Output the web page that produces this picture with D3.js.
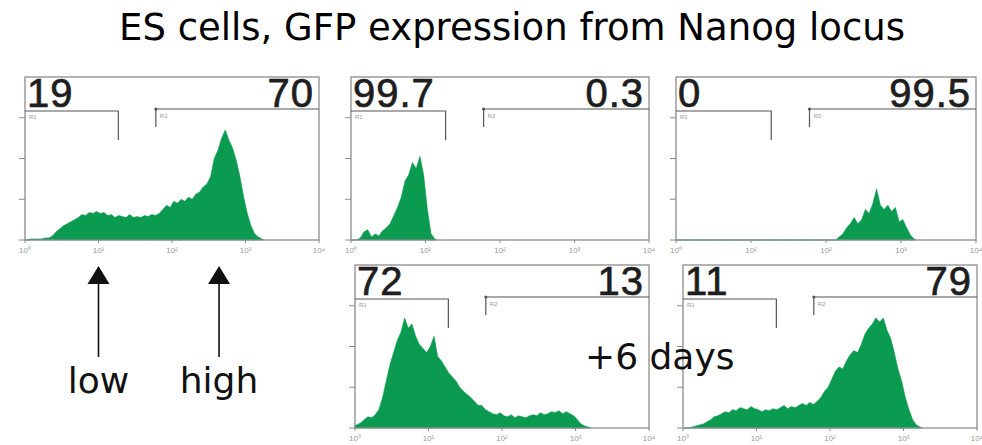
<!DOCTYPE html>
<html>
<head>
<meta charset="utf-8">
<script src="https://cdn.jsdelivr.net/npm/d3@7"></script>
<style>
  html, body { margin: 0; padding: 0; background: #fff; }
  svg { display: block; }
</style>
</head>
<body>
<svg id="chart" width="982" height="445"></svg>
<script>
// ---- data ----
const titleText = "ES cells, GFP expression from Nanog locus";
const binWidth = 0.05;                 // decades per histogram bin, first bin starts at 10^0
const decadeTicks = [0, 1, 2, 3, 4];
const decadeLabels = ["10⁰", "10¹", "10²", "10³", "10⁴"];
const countTicks = [0, 40, 80, 120];
const gateR1End = 1.27;                // log10 upper edge of gate R1
const gateR2Start = 1.78;              // log10 lower edge of gate R2

const percentR1 = [19, 99.7, 0, 72, 11];
const percentR2 = [70, 0.3, 99.5, 13, 79];

// GFP histograms (cell counts per bin)
const countsParental = [0,1,1,1,1,2,2,4,8,11,14,16,18,20,22,25,24,27,26,28,26,27,24,25,22,24,23,22,25,22,23,22,24,23,25,24,26,30,34,32,38,36,40,38,42,40,45,47,52,55,62,80,88,100,108,98,90,78,62,42,26,14,6,3,1];
const countsLowSorted = [0,0,2,8,10,3,6,4,9,12,16,24,32,42,58,64,76,70,82,64,30,6,1];
const countsHighSorted = [0,0,0,0,0,0,0,0,0,0,0,0,0,0,0,0,0,0,0,0,0,0,0,0,0,0,0,0,0,0,0,0,0,0,0,0,0,0,0,0,0,0,0,3,6,12,16,22,16,20,30,26,36,50,34,30,34,28,32,18,20,12,5,1];
const countsLowDay6 = [3,5,8,11,10,13,18,30,46,62,74,86,94,108,98,102,90,82,78,74,80,90,70,66,60,54,50,46,40,36,33,30,26,22,22,18,16,14,13,15,12,11,13,10,12,11,10,12,13,12,15,13,14,16,15,17,14,16,14,12,8,4,2,1];
const countsHighDay6 = [0,0,1,2,3,4,6,8,11,12,14,16,15,18,17,20,19,18,21,19,18,16,18,17,19,18,20,22,19,21,20,22,24,22,25,23,26,30,36,40,48,56,60,58,66,72,76,74,82,92,98,102,108,104,108,96,88,74,58,46,30,18,8,3,1];

const annotationLow = "low";
const annotationHigh = "high";
const annotationLowAt = 1.0;     // log10 position pointed at
const annotationHighAt = 2.64;
const annotationDays = "+6 days";

// ---- layout ----
const panels = [
  { counts: countsParental,   x0: 25,  x1: 319, top: 77,  bottom: 240 },
  { counts: countsLowSorted,  x0: 351, x1: 649, top: 77,  bottom: 240 },
  { counts: countsHighSorted, x0: 676, x1: 976, top: 77,  bottom: 240 },
  { counts: countsLowDay6,    x0: 355, x1: 649, top: 265, bottom: 428 },
  { counts: countsHighDay6,   x0: 683, x1: 977, top: 265, bottom: 428 }
];

const svg = d3.select("#chart");
const green = "#0a9a50";
const frameColor = "#8c8c8c";
const gateColor = "#555";

svg.append("text")
  .attr("x", 512).attr("y", 40)
  .attr("text-anchor", "middle")
  .attr("font-family", "DejaVu Sans")
  .attr("font-size", 37)
  .attr("fill", "#000")
  .text(titleText);

const scales = [];

panels.forEach((p, k) => {
  const x = d3.scaleLinear().domain([0, 4]).range([p.x0, p.x1]);
  const y = d3.scaleLinear().domain([0, 160]).range([p.bottom, p.top]);
  scales.push({ x, y });
  const g = svg.append("g");

  // histogram, traced through the bin centres
  const n = p.counts.length;
  const pts = [{ lx: 0, c: p.counts[0] }]
    .concat(p.counts.map((c, i) => ({ lx: (i + 0.5) * binWidth, c })))
    .concat([{ lx: n * binWidth, c: 0 }]);
  const area = d3.area()
    .x(d => x(d.lx))
    .y0(y(0))
    .y1(d => y(d.c))
    .curve(d3.curveLinear);
  g.append("path").datum(pts)
    .attr("d", area)
    .attr("fill", green)
    .attr("stroke", green)
    .attr("stroke-width", 0.6)
    .attr("stroke-linejoin", "miter");

  // frame
  g.append("rect")
    .attr("x", p.x0).attr("y", p.top)
    .attr("width", p.x1 - p.x0).attr("height", p.bottom - p.top)
    .attr("fill", "none")
    .attr("stroke", frameColor)
    .attr("stroke-width", 1.3);

  // count axis ticks
  g.selectAll("line.yt").data(countTicks).join("line")
    .attr("x1", p.x0 - 6).attr("x2", p.x0)
    .attr("y1", d => y(d)).attr("y2", d => y(d))
    .attr("stroke", frameColor).attr("stroke-width", 1);

  // decade axis ticks and labels
  g.selectAll("line.xt").data(decadeTicks).join("line")
    .attr("x1", d => x(d)).attr("x2", d => x(d))
    .attr("y1", p.bottom).attr("y2", p.bottom + 3)
    .attr("stroke", frameColor).attr("stroke-width", 1);
  g.selectAll("text.xl").data(decadeTicks).join("text")
    .attr("x", d => x(d)).attr("y", p.bottom + 13)
    .attr("text-anchor", "middle")
    .attr("font-family", "Liberation Sans")
    .attr("font-size", 8)
    .attr("fill", "#9a9a9a")
    .text((d, i) => decadeLabels[i]);

  // gates
  const r1y = p.top + 34, r2y = p.top + 32;
  g.append("path")
    .attr("d", `M${p.x0},${r1y}H${x(gateR1End)}V${p.top + 63}`)
    .attr("fill", "none").attr("stroke", gateColor).attr("stroke-width", 1.2);
  g.append("path")
    .attr("d", `M${x(gateR2Start)},${p.top + 50}V${r2y}H${p.x1}`)
    .attr("fill", "none").attr("stroke", gateColor).attr("stroke-width", 1.2);
  g.append("circle")
    .attr("cx", x(gateR2Start)).attr("cy", r2y).attr("r", 1.6)
    .attr("fill", gateColor);
  g.append("text")
    .attr("x", p.x0 + 4).attr("y", r1y + 8)
    .attr("font-family", "Liberation Sans").attr("font-size", 6)
    .attr("fill", "#999").text("R1");
  g.append("text")
    .attr("x", x(gateR2Start) + 4).attr("y", r2y + 9)
    .attr("font-family", "Liberation Sans").attr("font-size", 6)
    .attr("fill", "#999").text("R2");

  // gate percentages
  const pct = [
    { v: percentR1[k], x: p.x0 + 2, anchor: "start" },
    { v: percentR2[k], x: p.x1 - 5, anchor: "end" }
  ];
  g.selectAll("text.pct").data(pct).join("text")
    .attr("x", d => d.x).attr("y", p.top + 30)
    .attr("text-anchor", d => d.anchor)
    .attr("font-family", "Liberation Sans")
    .attr("font-size", 40)
    .attr("letter-spacing", 1)
    .attr("fill", "#1e1e1e")
    .attr("stroke", "#1e1e1e")
    .attr("stroke-width", 0.7)
    .text(d => String(d.v));
});

// arrows under the parental histogram
const xp = scales[0].x;
const arrows = [
  { at: annotationLowAt, label: annotationLow },
  { at: annotationHighAt, label: annotationHigh }
];
arrows.forEach(a => {
  const ax = xp(a.at);
  svg.append("line")
    .attr("x1", ax).attr("x2", ax)
    .attr("y1", 357).attr("y2", 282)
    .attr("stroke", "#111").attr("stroke-width", 1.6);
  svg.append("path")
    .attr("d", `M${ax},266L${ax - 11},284L${ax + 11},284Z`)
    .attr("fill", "#111");
  svg.append("text")
    .attr("x", ax).attr("y", 393)
    .attr("text-anchor", "middle")
    .attr("font-family", "DejaVu Sans")
    .attr("font-size", 36)
    .attr("fill", "#111")
    .text(a.label);
});

svg.append("text")
  .attr("x", 585).attr("y", 369)
  .attr("font-family", "DejaVu Sans")
  .attr("font-size", 36)
  .attr("fill", "#111")
  .text(annotationDays);
</script>
</body>
</html>
